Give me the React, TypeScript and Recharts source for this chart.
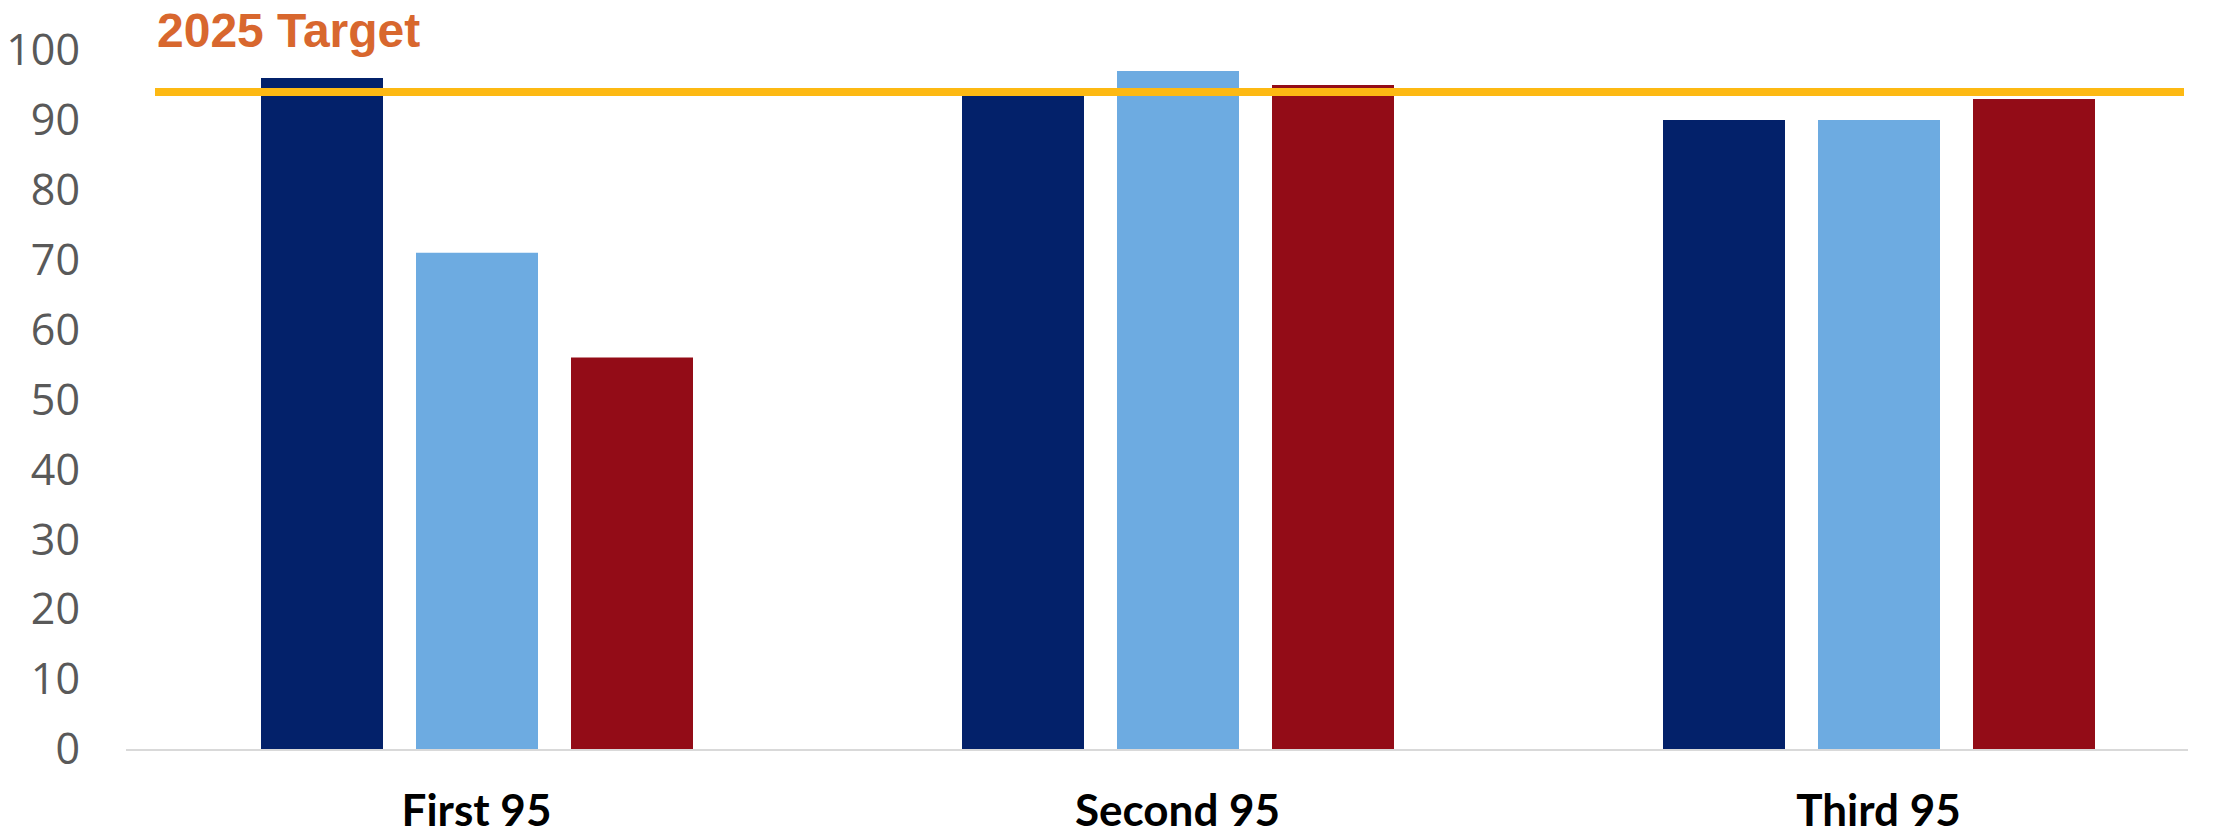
import { BarChart, Bar, XAxis, YAxis, ReferenceLine } from "recharts";

const categories = ["First 95", "Second 95", "Third 95"];
const darkValues = [96, 94, 90];
const lightValues = [71, 97, 90];
const redValues = [56, 95, 93];
const yTicks = [0, 10, 20, 30, 40, 50, 60, 70, 80, 90, 100];
const targetValue = 94;
const targetLabel = "2025 Target";

const rows = categories.map((name, i) => ({
  name,
  dark: darkValues[i],
  light: lightValues[i],
  red: redValues[i],
}));

// target line is inset from the plot edges like in the original slide
const TargetShape = (props: any) => {
  const { x1, y1, x2 } = props;
  return (
    <g>
      <line x1={x1 + 29} x2={x2 - 45} y1={y1} y2={y1} stroke="#FDB913" strokeWidth={8} />
      <text
        x={x1 + 31}
        y={y1 - 45}
        fill="#D8672E"
        fontSize={48}
        fontWeight={700}
        fontFamily="'Liberation Sans', Arial, sans-serif"
      >
        {targetLabel}
      </text>
    </g>
  );
};

const BaseShape = (props: any) => {
  const { x1, y1, x2 } = props;
  return <line x1={x1} x2={x2 - 41} y1={y1 + 1} y2={y1 + 1} stroke="#D9D9D9" strokeWidth={2} />;
};

export default function App() {
  return (
    <div
      style={{
        position: "absolute",
        top: 0,
        left: 0,
        width: 2216,
        height: 836,
        overflow: "hidden",
        background: "#fff",
      }}
    >
      <BarChart
        width={2239}
        height={836}
        data={rows}
        margin={{ top: 50, right: 10, bottom: 7, left: 0 }}
        barGap={33}
        barSize={122}
      >
        <XAxis
          dataKey="name"
          axisLine={false}
          tickLine={false}
          tickMargin={40}
          height={80}
          tick={{ fill: "#000", fontSize: 44, fontWeight: 700, fontFamily: "Lato, sans-serif" }}
        />
        <YAxis
          domain={[0, 100]}
          ticks={yTicks}
          width={126}
          axisLine={false}
          tickLine={false}
          tickMargin={40}
          tick={{ fill: "#595959", fontSize: 43, fontFamily: "'Open Sans', sans-serif" }}
        />
        <ReferenceLine y={0} shape={BaseShape} />
        <Bar dataKey="dark" fill="#03216A" isAnimationActive={false} />
        <Bar dataKey="light" fill="#6DABE1" isAnimationActive={false} />
        <Bar dataKey="red" fill="#930C17" isAnimationActive={false} />
        <ReferenceLine y={targetValue} shape={TargetShape} />
      </BarChart>
    </div>
  );
}
